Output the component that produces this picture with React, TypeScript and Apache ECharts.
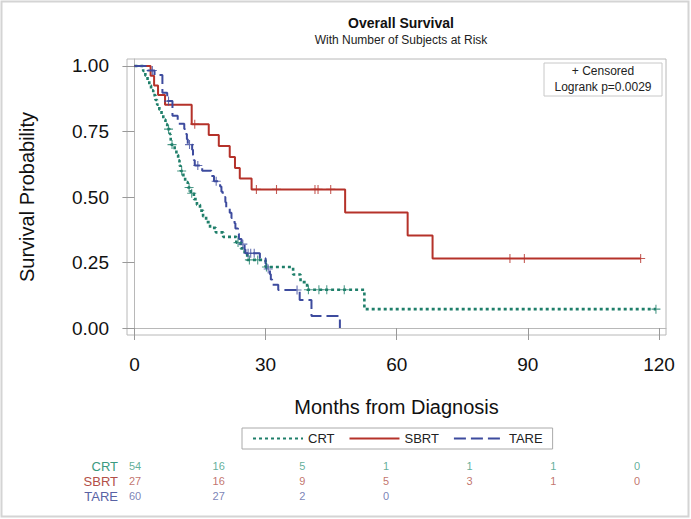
import React, { useEffect, useRef } from "react";
import * as echarts from "echarts";

// ---- Data ----
const crtTimes = [0, 2.0, 2.5, 3.0, 3.4, 3.8, 4.3, 4.8, 5.2, 5.7, 6.2, 6.6, 7.1, 7.5, 8.1, 8.3, 8.4, 9.2, 9.6, 10.0, 10.3, 10.6, 11.2, 11.6, 12.2, 12.9, 13.6, 14.3, 15.0, 15.7, 16.4, 17.3, 18.6, 20.3, 23.3, 24.3, 25.2, 25.8, 30.0, 36.3, 38.0, 39.5, 52.6];
const crtSurv = [1, 0.981, 0.963, 0.944, 0.926, 0.907, 0.889, 0.87, 0.852, 0.833, 0.815, 0.796, 0.778, 0.759, 0.74, 0.72, 0.7, 0.68, 0.66, 0.64, 0.619, 0.599, 0.578, 0.557, 0.536, 0.514, 0.492, 0.47, 0.448, 0.426, 0.404, 0.382, 0.365, 0.348, 0.326, 0.304, 0.282, 0.26, 0.233, 0.204, 0.175, 0.146, 0.072];
const crtEnd = 119.3;
const crtCensor = [7.8, 8.6, 10.8, 12.5, 13.1, 23.7, 26.3, 28.2, 30.2, 39.8, 42.2, 44.0, 48.0, 119.3];

const sbrtTimes = [0, 3.7, 4.5, 5.4, 7.0, 13.1, 17.0, 19.3, 21.8, 23.0, 24.1, 26.8, 48.2, 62.5, 68.2];
const sbrtSurv = [1, 0.963, 0.926, 0.889, 0.852, 0.778, 0.737, 0.695, 0.653, 0.611, 0.571, 0.529, 0.441, 0.353, 0.265];
const sbrtEnd = 115.8;
const sbrtCensor = [13.8, 27.9, 32.5, 41.3, 42.0, 44.9, 85.9, 89.2, 115.8];

const tareTimes = [0, 3.0, 4.6, 6.4, 7.5, 8.7, 9.9, 11.4, 11.8, 12.0, 12.2, 13.2, 13.4, 13.6, 13.8, 15.5, 17.6, 18.2, 19.6, 19.9, 20.2, 20.8, 21.0, 21.8, 22.2, 22.9, 23.1, 23.7, 23.9, 24.5, 25.2, 25.4, 28.7, 30.0, 30.2, 31.0, 31.2, 31.5, 32.9, 37.8, 40.5, 47.0];
const tareSurv = [1, 0.983, 0.966, 0.898, 0.866, 0.81, 0.78, 0.76, 0.74, 0.72, 0.7, 0.68, 0.66, 0.64, 0.62, 0.6, 0.58, 0.56, 0.54, 0.52, 0.5, 0.48, 0.46, 0.44, 0.42, 0.4, 0.38, 0.36, 0.34, 0.32, 0.3, 0.285, 0.266, 0.245, 0.225, 0.205, 0.185, 0.165, 0.145, 0.107, 0.046, 0];
const tareEnd = 47.0;
const tareCensor = [4.1, 7.8, 12.6, 14.5, 18.7, 24.8, 26.0, 26.6, 27.4, 30.6, 37.2];

const riskTimes = [0, 20, 40, 60, 80, 100, 120];
const riskGroups = ["CRT", "SBRT", "TARE"];
const riskCRT = [54, 16, 5, 1, 1, 1, 0];
const riskSBRT = [27, 16, 9, 5, 3, 1, 0];
const riskTARE = [60, 27, 2, 0];

const xTicks = [0, 30, 60, 90, 120];
const yTicks = [0, 0.25, 0.5, 0.75, 1];

// ---- Styles ----
const C_CRT = "#1f7f6a";
const C_SBRT = "#b5322a";
const C_TARE = "#3d4b9e";
const T_CRT = "#3a9a80";
const T_SBRT = "#b24f47";
const T_TARE = "#5862a4";
const FONT = "'Liberation Sans', Arial, sans-serif";
const PLUS = "path://M-0.6,-5 L0.6,-5 L0.6,-0.6 L5,-0.6 L5,0.6 L0.6,0.6 L0.6,5 L-0.6,5 L-0.6,0.6 L-5,0.6 L-5,-0.6 L-0.6,-0.6 Z";

function stepData(times: number[], surv: number[], end: number) {
  const d = times.map((t, i) => [t, surv[i]]);
  if (end > times[times.length - 1]) d.push([end, surv[surv.length - 1]]);
  return d;
}
function survAt(times: number[], surv: number[], t: number) {
  let v = surv[0];
  for (let i = 0; i < times.length; i++) if (times[i] <= t) v = surv[i];
  return v;
}
function censorData(times: number[], surv: number[], cens: number[]) {
  return cens.map((t) => [t, survAt(times, surv, t)]);
}

export default function App() {
  const ref = useRef<HTMLDivElement>(null);
  useEffect(() => {
    if (!ref.current) return;
    const chart = echarts.init(ref.current, undefined, { renderer: "svg" });
    const riskRows: Record<string, number[]> = { CRT: riskCRT, SBRT: riskSBRT, TARE: riskTARE };
    const riskColors: Record<string, string> = { CRT: T_CRT, SBRT: T_SBRT, TARE: T_TARE };
    const riskSeries = riskGroups.map((g) => ({
      type: "scatter",
      name: g + " at risk",
      xAxisIndex: 1,
      yAxisIndex: 1,
      symbolSize: 1,
      itemStyle: { color: "transparent" },
      silent: true,
      label: {
        show: true,
        position: "inside",
        formatter: (p: any) => String(p.value[2]),
        color: riskColors[g],
        fontSize: 11,
        fontFamily: FONT,
      },
      data: riskRows[g].map((n, i) => [riskTimes[i], g, n]),
    }));

    chart.setOption({
      animation: false,
      backgroundColor: "#ffffff",
      textStyle: { fontFamily: FONT },
      title: {
        text: "Overall Survival",
        subtext: "With Number of Subjects at Risk",
        left: 396,
        textAlign: "center",
        top: 11,
        itemGap: 4,
        textStyle: { fontSize: 14, fontWeight: "bold", color: "#111", fontFamily: FONT },
        subtextStyle: { fontSize: 12, color: "#222", fontFamily: FONT },
      },
      legend: {
        data: ["CRT", "SBRT", "TARE"],
        left: 242,
        top: 428,
        itemWidth: 50,
        itemHeight: 10,
        itemGap: 14,
        padding: [4, 10, 4, 10],
        borderColor: "#aaaaaa",
        borderWidth: 1,
        borderRadius: 0,
        itemStyle: { opacity: 0 },
        lineStyle: { opacity: 1 },
        textStyle: { fontSize: 13, color: "#222", fontFamily: FONT },
      },
      grid: [
        { left: 127, top: 59, width: 539, height: 276, show: true, borderColor: "#b8b8b8", borderWidth: 1, backgroundColor: "#fff" },
        { left: 135, top: 458.5, width: 502, height: 45 },
      ],
      xAxis: [
        {
          type: "value",
          gridIndex: 0,
          min: -1.7,
          max: 121.6,
          name: "Months from Diagnosis",
          nameLocation: "middle",
          nameGap: 62,
          nameTextStyle: { fontSize: 20, color: "#111", fontFamily: FONT },
          axisLine: { show: true, lineStyle: { color: "#b8b8b8" } },
          axisTick: { show: true, length: 12, customValues: xTicks, lineStyle: { color: "#999" } },
          axisLabel: { customValues: xTicks, margin: 20, fontSize: 19, color: "#111", fontFamily: FONT },
          splitLine: { show: false },
        },
        {
          type: "value",
          gridIndex: 1,
          min: 0,
          max: 120,
          show: false,
        },
      ],
      yAxis: [
        {
          type: "value",
          gridIndex: 0,
          min: -0.0267,
          max: 1.0267,
          name: "Survival Probability",
          nameLocation: "middle",
          nameGap: 90,
          nameTextStyle: { fontSize: 20, color: "#111", fontFamily: FONT },
          axisLine: { show: true, lineStyle: { color: "#b8b8b8" } },
          axisTick: { show: true, length: 12, customValues: yTicks, lineStyle: { color: "#999" } },
          axisLabel: {
            customValues: yTicks,
            margin: 18,
            fontSize: 19,
            color: "#111",
            fontFamily: FONT,
            formatter: (v: number) => v.toFixed(2),
          },
          splitLine: { show: false },
        },
        {
          type: "category",
          gridIndex: 1,
          data: ["TARE", "SBRT", "CRT"],
          axisLine: { show: false },
          axisTick: { show: false },
          splitLine: { show: false },
          axisLabel: {
            interval: 0,
            margin: 17,
            fontSize: 13,
            fontFamily: FONT,
            color: (v: string) => riskColors[v] || "#333",
          },
        },
      ],
      series: [
        {
          type: "line",
          name: "CRT",
          step: "end",
          symbol: "none",
          lineStyle: { color: C_CRT, width: 2.6, type: [3, 3] },
          itemStyle: { color: C_CRT },
          data: stepData(crtTimes, crtSurv, crtEnd),
          z: 3,
        },
        {
          type: "line",
          name: "SBRT",
          step: "end",
          symbol: "none",
          lineStyle: { color: C_SBRT, width: 2, type: "solid" },
          itemStyle: { color: C_SBRT },
          data: stepData(sbrtTimes, sbrtSurv, sbrtEnd),
          z: 3,
        },
        {
          type: "line",
          name: "TARE",
          step: "end",
          symbol: "none",
          lineStyle: { color: C_TARE, width: 2, type: [12, 5] },
          itemStyle: { color: C_TARE },
          data: stepData(tareTimes, tareSurv, tareEnd),
          z: 3,
        },
        {
          type: "scatter",
          name: "CRT censored",
          symbol: PLUS,
          symbolSize: 9,
          itemStyle: { color: C_CRT },
          data: censorData(crtTimes, crtSurv, crtCensor),
          z: 4,
        },
        {
          type: "scatter",
          name: "SBRT censored",
          symbol: PLUS,
          symbolSize: 9,
          itemStyle: { color: C_SBRT },
          data: censorData(sbrtTimes, sbrtSurv, sbrtCensor),
          z: 4,
        },
        {
          type: "scatter",
          name: "TARE censored",
          symbol: PLUS,
          symbolSize: 9,
          itemStyle: { color: C_TARE },
          data: censorData(tareTimes, tareSurv, tareCensor),
          z: 4,
        },
        ...riskSeries,
      ],
      graphic: [
        {
          type: "rect",
          shape: { x: 1.5, y: 1.5, width: 687, height: 515 },
          style: { fill: "none", stroke: "#d4d4d4", lineWidth: 2 },
          silent: true,
          z: 100,
        },
        {
          type: "rect",
          shape: { x: 544, y: 63, width: 118, height: 33 },
          style: { fill: "#fff", stroke: "#c8c8c8", lineWidth: 1 },
          z: 100,
        },
        {
          type: "text",
          x: 603,
          y: 71,
          style: { text: "+ Censored", fontSize: 12, fill: "#222", align: "center", verticalAlign: "middle", fontFamily: FONT },
          z: 101,
        },
        {
          type: "text",
          x: 603,
          y: 87,
          style: { text: "Logrank p=0.0029", fontSize: 12, fill: "#222", align: "center", verticalAlign: "middle", fontFamily: FONT },
          z: 101,
        },
      ],
    });
    return () => chart.dispose();
  }, []);
  return (
    <div
      ref={ref}
      style={{ position: "fixed", left: 0, top: 0, width: 691, height: 519, background: "#fff" }}
    />
  );
}
